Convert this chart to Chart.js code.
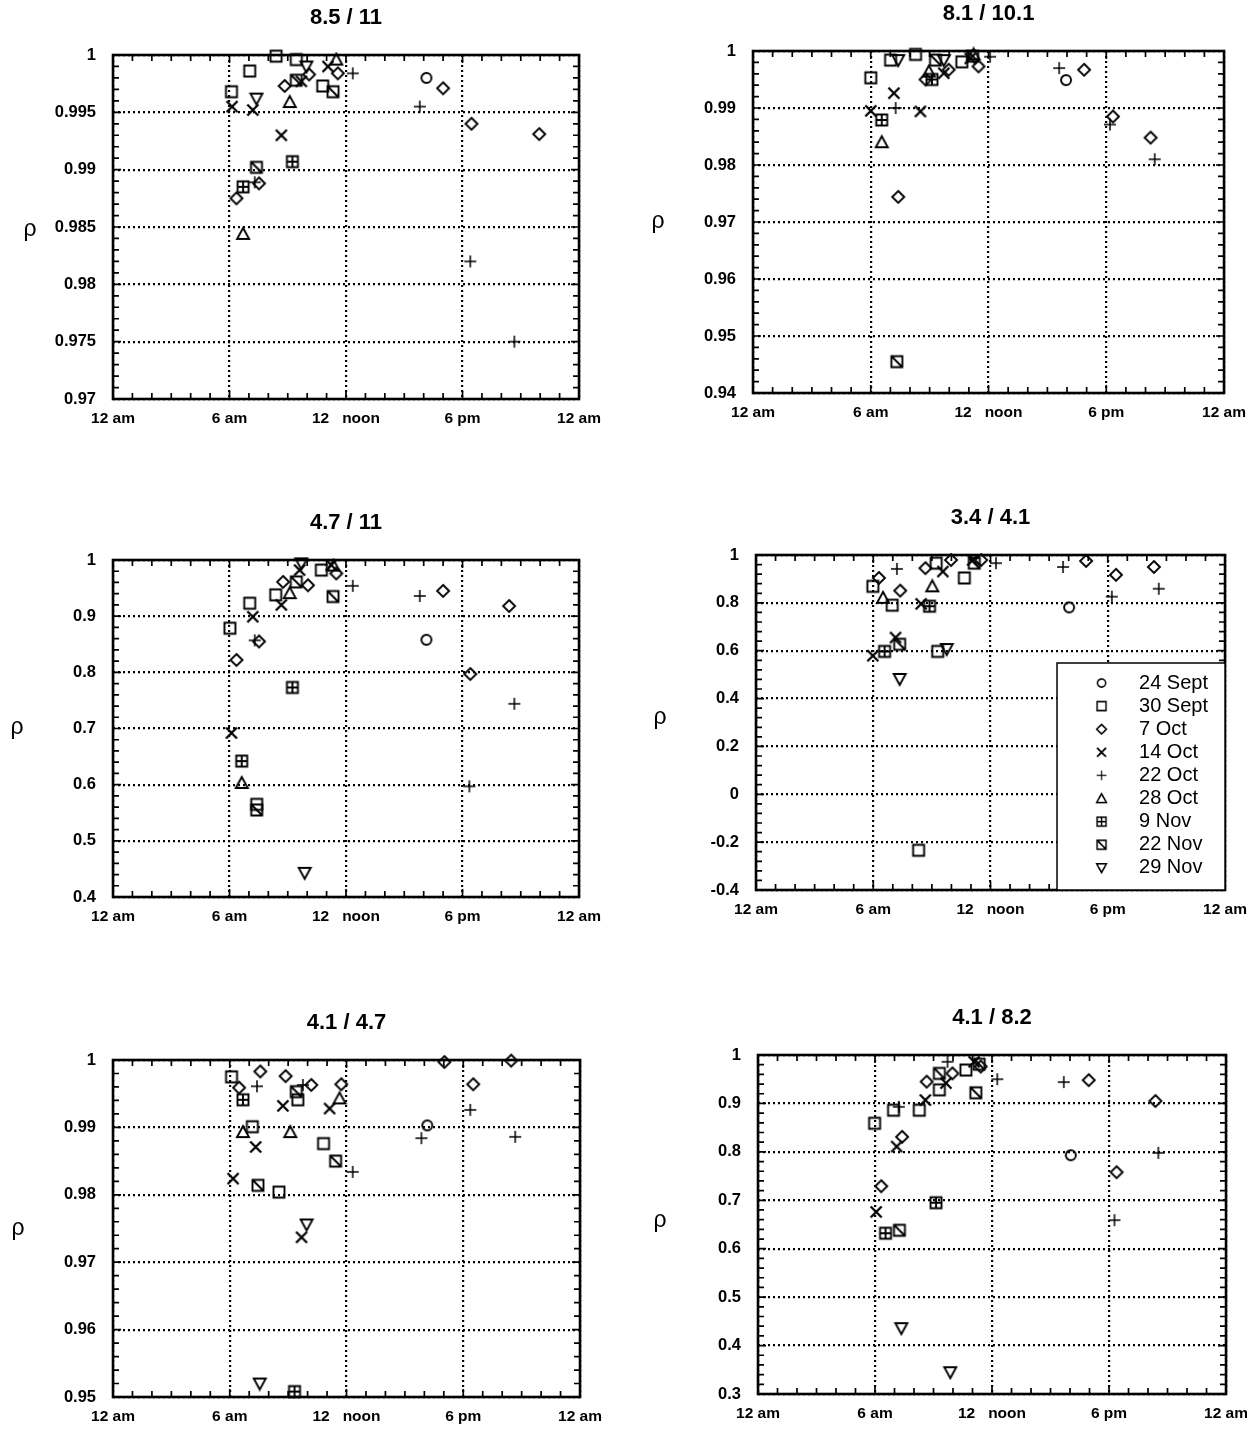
<!DOCTYPE html>
<html>
<head>
<meta charset="utf-8">
<script src="https://cdn.jsdelivr.net/npm/chart.js@4.4.1/dist/chart.umd.min.js"></script>
<style>
  body { margin: 0; background: #fff; width: 1247px; height: 1429px; position: relative; overflow: hidden; }
  .panel { position: absolute; }
</style>
</head>
<body>
<div class="panel" id="p0"><canvas></canvas></div>
<div class="panel" id="p1"><canvas></canvas></div>
<div class="panel" id="p2"><canvas></canvas></div>
<div class="panel" id="p3"><canvas></canvas></div>
<div class="panel" id="p4"><canvas></canvas></div>
<div class="panel" id="p5"><canvas></canvas></div>
<script>
var seriesNames = ['24 Sept', '30 Sept', '7 Oct', '14 Oct', '22 Oct', '28 Oct', '9 Nov', '22 Nov', '29 Nov'];
var hourTicks = [0, 6, 12, 18, 24];
var hourLabels = ['12 am', '6 am', '12   noon', '6 pm', '12 am'];
var titles = ['8.5 / 11', '8.1 / 10.1', '4.7 / 11', '3.4 / 4.1', '4.1 / 4.7', '4.1 / 8.2'];

// [hour, rho] pairs, one list per date in seriesNames order
var panel1 = [
  [[16.14, 0.998]],
  [[6.1, 0.9968], [7.04, 0.9986], [8.4, 0.9999], [9.44, 0.9996], [10.8, 0.9973]],
  [[6.36, 0.9875], [7.52, 0.9888], [8.84, 0.9973], [10.1, 0.9983], [11.58, 0.9984], [17.0, 0.9971], [18.46, 0.994], [21.95, 0.9931]],
  [[6.13, 0.9955], [7.2, 0.9952], [8.67, 0.993], [9.7, 0.9977], [11.07, 0.999]],
  [[7.3, 0.9889], [12.35, 0.9984], [15.8, 0.9955], [18.4, 0.982], [20.67, 0.975]],
  [[6.7, 0.9844], [9.1, 0.9959], [11.5, 0.9996]],
  [[6.7, 0.9885], [9.24, 0.9907]],
  [[7.39, 0.9902], [9.44, 0.9978], [11.33, 0.9968]],
  [[7.39, 0.9962], [9.96, 0.999]]
];
var panel2 = [
  [[15.95, 0.9949]],
  [[6.0, 0.9953], [7.01, 0.9984], [8.28, 0.9994], [10.64, 0.9981]],
  [[7.4, 0.9744], [8.79, 0.995], [9.97, 0.9967], [11.49, 0.9973], [16.87, 0.9967], [18.34, 0.9885], [20.26, 0.9848]],
  [[6.0, 0.9895], [7.18, 0.9926], [8.53, 0.9894], [9.72, 0.9961], [11.07, 0.9987]],
  [[7.27, 0.99], [12.08, 0.999], [15.6, 0.997], [18.19, 0.9871], [20.47, 0.981]],
  [[6.56, 0.984], [8.96, 0.9964], [11.24, 0.9994]],
  [[6.56, 0.9879], [9.12, 0.995]],
  [[7.33, 0.9455], [9.3, 0.9984], [11.19, 0.9991]],
  [[7.4, 0.9984], [9.72, 0.9984]]
];
var panel3 = [
  [[16.14, 0.858]],
  [[6.02, 0.8785], [7.04, 0.923], [7.4, 0.565], [8.38, 0.938], [10.73, 0.982]],
  [[6.36, 0.822], [7.52, 0.855], [8.76, 0.961], [10.04, 0.955], [11.5, 0.976], [17.0, 0.945], [18.4, 0.797], [20.4, 0.918]],
  [[6.1, 0.692], [7.2, 0.899], [8.67, 0.92], [9.61, 0.982], [11.24, 0.991]],
  [[7.3, 0.857], [12.35, 0.954], [15.8, 0.936], [18.35, 0.597], [20.67, 0.744]],
  [[6.63, 0.603], [9.1, 0.941], [11.35, 0.99]],
  [[6.63, 0.642], [9.24, 0.773]],
  [[7.4, 0.555], [9.44, 0.961], [11.33, 0.935]],
  [[9.7, 0.994], [9.87, 0.443]]
];
var panel4 = [
  [[16.02, 0.781]],
  [[5.98, 0.869], [6.97, 0.79], [8.32, -0.234], [9.22, 0.966], [9.3, 0.597], [10.66, 0.904]],
  [[6.29, 0.904], [7.38, 0.851], [8.67, 0.945], [9.98, 0.979], [11.52, 0.979], [16.89, 0.975], [18.42, 0.917], [20.36, 0.95]],
  [[5.98, 0.579], [7.14, 0.655], [8.45, 0.796], [9.56, 0.931], [11.09, 0.979]],
  [[7.21, 0.942], [12.28, 0.966], [15.71, 0.95], [18.21, 0.826], [20.61, 0.859]],
  [[6.5, 0.821], [9.02, 0.869]],
  [[6.58, 0.597], [8.88, 0.786]],
  [[7.35, 0.627], [11.17, 0.966]],
  [[7.35, 0.482], [9.76, 0.607]]
];
var panel5 = [
  [[16.15, 0.9903]],
  [[6.09, 0.9975], [7.16, 0.9901], [8.53, 0.9804], [9.5, 0.9941], [10.82, 0.9876]],
  [[6.48, 0.9959], [7.57, 0.9983], [8.87, 0.9976], [10.19, 0.9963], [11.73, 0.9964], [17.03, 0.9997], [18.51, 0.9964], [20.46, 0.9999]],
  [[6.17, 0.9824], [7.33, 0.9871], [8.73, 0.9932], [9.69, 0.9737], [11.13, 0.9928]],
  [[7.4, 0.9961], [9.76, 0.9963], [12.32, 0.9834], [15.85, 0.9884], [18.36, 0.9926], [20.67, 0.9886]],
  [[6.68, 0.9893], [9.11, 0.9893], [11.64, 0.9943]],
  [[6.68, 0.9941], [9.33, 0.9508]],
  [[7.45, 0.9814], [9.42, 0.9953], [11.44, 0.985]],
  [[7.54, 0.952], [9.95, 0.9756]]
];
var panel6 = [
  [[16.04, 0.793]],
  [[5.98, 0.859], [6.95, 0.886], [8.27, 0.886], [9.3, 0.928], [10.66, 0.969]],
  [[6.32, 0.729], [7.39, 0.831], [8.65, 0.945], [9.97, 0.962], [11.42, 0.976], [16.96, 0.948], [18.39, 0.758], [20.38, 0.905]],
  [[6.06, 0.676], [7.11, 0.811], [8.58, 0.907], [9.64, 0.942], [11.08, 0.986]],
  [[7.22, 0.893], [9.72, 0.986], [12.27, 0.95], [15.68, 0.944], [18.28, 0.659], [20.53, 0.798]],
  [],
  [[6.54, 0.632], [9.13, 0.695]],
  [[7.25, 0.638], [9.3, 0.962], [11.17, 0.922], [11.34, 0.981]],
  [[7.35, 0.436], [9.86, 0.345]]
];

var yTicks1 = [0.97, 0.975, 0.98, 0.985, 0.99, 0.995, 1];
var yTicks2 = [0.94, 0.95, 0.96, 0.97, 0.98, 0.99, 1];
var yTicks3 = [0.4, 0.5, 0.6, 0.7, 0.8, 0.9, 1];
var yTicks4 = [-0.4, -0.2, 0, 0.2, 0.4, 0.6, 0.8, 1];
var yTicks5 = [0.95, 0.96, 0.97, 0.98, 0.99, 1];
var yTicks6 = [0.3, 0.4, 0.5, 0.6, 0.7, 0.8, 0.9, 1];

var panelData = [panel1, panel2, panel3, panel4, panel5, panel6];
var panelTicks = [yTicks1, yTicks2, yTicks3, yTicks4, yTicks5, yTicks6];

// plot frame of each panel on the page, and where the rho label sits
var frames = [
  { L: 113, R: 581, T: 55, B: 399, rho: [-83, 3] },
  { L: 753, R: 1226, T: 51, B: 393, rho: [-95, 0] },
  { L: 113, R: 581, T: 560, B: 897, rho: [-96, -1] },
  { L: 756, R: 1227, T: 555, B: 890, rho: [-96, -5] },
  { L: 113, R: 582, T: 1060, B: 1397, rho: [-95, 0] },
  { L: 758, R: 1228, T: 1055, B: 1394, rho: [-98, -4] }
];

var FONT = '"Liberation Sans", Arial, Helvetica, sans-serif';
var shapes = ['circle', 'square', 'diamond', 'cross', 'plus', 'triangle', 'boxPlus', 'boxSlash', 'triangleDown'];

function makeMarker(shape) {
  var c = document.createElement('canvas');
  c.width = 16; c.height = 16;
  var g = c.getContext('2d');
  var m = 8, r = 5.5;
  g.strokeStyle = '#000';
  g.lineWidth = 1.9;
  g.beginPath();
  if (shape == 'circle') {
    g.arc(m, m, 5, 0, Math.PI * 2);
  } else if (shape == 'square' || shape == 'boxPlus' || shape == 'boxSlash') {
    g.rect(m - r, m - r, 2 * r, 2 * r);
    if (shape == 'boxPlus') {
      g.moveTo(m, m - r); g.lineTo(m, m + r);
      g.moveTo(m - r, m); g.lineTo(m + r, m);
    }
    if (shape == 'boxSlash') {
      g.moveTo(m - r, m - r); g.lineTo(m + r, m + r);
    }
  } else if (shape == 'diamond') {
    g.moveTo(m, m - 6); g.lineTo(m + 6, m); g.lineTo(m, m + 6); g.lineTo(m - 6, m); g.closePath();
  } else if (shape == 'cross') {
    g.lineWidth = 2.3;
    g.moveTo(2.5, 2.5); g.lineTo(13.5, 13.5);
    g.moveTo(13.5, 2.5); g.lineTo(2.5, 13.5);
  } else if (shape == 'plus') {
    g.lineWidth = 1.5;
    g.moveTo(m, 2); g.lineTo(m, 14);
    g.moveTo(2, m); g.lineTo(14, m);
  } else if (shape == 'triangle') {
    g.moveTo(m, 2); g.lineTo(14, 13); g.lineTo(2, 13); g.closePath();
  } else if (shape == 'triangleDown') {
    g.moveTo(2, 3); g.lineTo(14, 3); g.lineTo(m, 14); g.closePath();
  }
  g.stroke();
  return c;
}
var markers = shapes.map(makeMarker);

var framePlugin = {
  id: 'frame',
  beforeDatasetsDraw: function (chart, args, opts) {
    var a = chart.chartArea, ctx = chart.ctx;
    var xs = chart.scales.x, ys = chart.scales.y;
    var major = ys.ticks.map(function (t) { return t.value; });
    var step = (major[1] - major[0]) / 5;
    ctx.save();
    ctx.strokeStyle = '#000';
    ctx.lineWidth = 1.7;
    ctx.beginPath();
    for (var h = 0; h <= 24; h++) {
      var px = xs.getPixelForValue(h);
      var len = h % 6 ? 6 : 8;
      ctx.moveTo(px, a.bottom); ctx.lineTo(px, a.bottom - len);
      ctx.moveTo(px, a.top); ctx.lineTo(px, a.top + len);
    }
    var n = (major.length - 1) * 5;
    for (var i = 0; i <= n; i++) {
      var py = ys.getPixelForValue(major[0] + i * step);
      var l2 = i % 5 ? 6 : 8;
      ctx.moveTo(a.left, py); ctx.lineTo(a.left + l2, py);
      ctx.moveTo(a.right, py); ctx.lineTo(a.right - l2, py);
    }
    ctx.stroke();
    ctx.lineWidth = 2.6;
    ctx.strokeRect(a.left, a.top, a.right - a.left, a.bottom - a.top);
    // upright rho label
    ctx.fillStyle = '#000';
    ctx.font = '23px ' + FONT;
    ctx.textAlign = 'center';
    ctx.textBaseline = 'middle';
    ctx.fillText('\u03c1', a.left + opts.rhoDx, (a.top + a.bottom) / 2 + opts.rhoDy);
    ctx.restore();
  }
};

var legendPlugin = {
  id: 'boxLegend',
  afterDatasetsDraw: function (chart, args, opts) {
    if (!opts.show) return;
    var a = chart.chartArea, ctx = chart.ctx;
    var left = a.right - 168, top = a.top + 108;
    ctx.save();
    ctx.fillStyle = '#fff';
    ctx.fillRect(left, top, a.right - left, a.bottom - top);
    ctx.strokeStyle = '#000';
    ctx.lineWidth = 1.5;
    ctx.strokeRect(left, top, a.right - left, a.bottom - top);
    ctx.fillStyle = '#000';
    ctx.font = '20px ' + FONT;
    ctx.textAlign = 'left';
    ctx.textBaseline = 'middle';
    chart.data.datasets.forEach(function (ds, k) {
      var y = top + 20 + k * 23.1;
      ctx.drawImage(markers[k], left + 38, y - 6.5, 13, 13);
      ctx.fillText(ds.label, left + 82, y);
    });
    ctx.restore();
  }
};

panelData.forEach(function (pts, n) {
  var f = frames[n];
  var box = document.getElementById('p' + n);
  box.style.left = (f.L - 110) + 'px';
  box.style.top = (f.T - 55) + 'px';
  box.style.width = (f.R - f.L + 140) + 'px';
  box.style.height = (f.B - f.T + 95) + 'px';
  var yt = panelTicks[n];

  var datasets = seriesNames.map(function (name, k) {
    return {
      label: name,
      data: pts[k].map(function (p) { return { x: p[0], y: p[1] }; }),
      pointStyle: markers[k],
      pointRadius: 6,
      pointHoverRadius: 6,
      showLine: false,
      clip: false
    };
  });

  new Chart(box.querySelector('canvas'), {
    type: 'scatter',
    data: { datasets: datasets },
    options: {
      responsive: true,
      maintainAspectRatio: false,
      animation: false,
      events: [],
      layout: { padding: { left: 0, right: 30, top: 0, bottom: 0 } },
      plugins: {
        legend: { display: false },
        tooltip: { enabled: false },
        title: {
          display: true,
          text: titles[n],
          fullSize: false,
          color: '#000',
          font: { family: FONT, size: 22, weight: 'bold', lineHeight: 1.2 },
          padding: { top: 5, bottom: 23.6 }
        },
        frame: { rhoDx: f.rho[0], rhoDy: f.rho[1] },
        boxLegend: { show: n == 3 }
      },
      scales: {
        x: {
          type: 'linear',
          min: 0,
          max: 24,
          afterBuildTicks: function (s) { s.ticks = hourTicks.map(function (v) { return { value: v }; }); },
          afterFit: function (s) { s.height = 40; },
          ticks: {
            autoSkip: false,
            maxRotation: 0,
            padding: 10,
            color: '#000',
            font: { family: FONT, size: 15.5, weight: 'bold' },
            callback: function (v, i) { return hourLabels[i]; }
          },
          grid: { color: '#000', lineWidth: 2.2, drawTicks: false },
          border: { display: false, dash: [2, 3] }
        },
        y: {
          type: 'linear',
          min: yt[0],
          max: yt[yt.length - 1],
          afterBuildTicks: function (s) { s.ticks = yt.map(function (v) { return { value: v }; }); },
          afterFit: function (s) { s.width = 110; },
          ticks: {
            padding: 17,
            color: '#000',
            font: { family: FONT, size: 16.5, weight: 'bold' },
            callback: function (v, i) { return String(yt[i]); }
          },
          grid: { color: '#000', lineWidth: 2.2, drawTicks: false },
          border: { display: false, dash: [2, 3] }
        }
      }
    },
    plugins: [framePlugin, legendPlugin]
  });
});
</script>
</body>
</html>
